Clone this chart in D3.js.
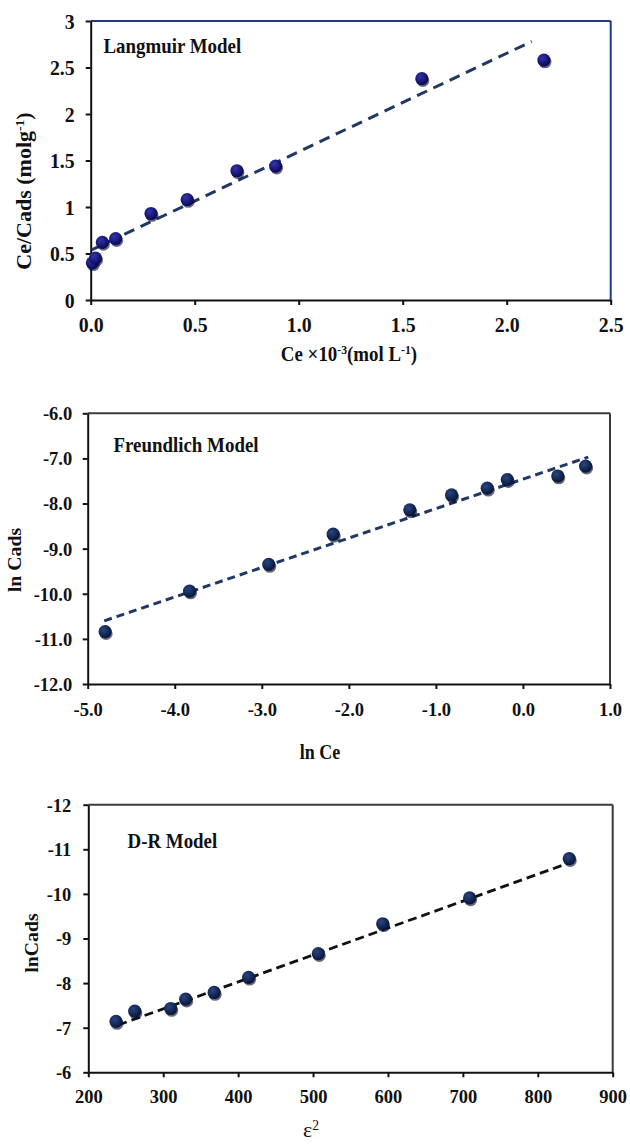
<!DOCTYPE html>
<html>
<head>
<meta charset="utf-8">
<script src="https://cdn.jsdelivr.net/npm/d3@7"></script>
<style>
  html, body { margin: 0; padding: 0; background: #fff; }
  svg { display: block; }
</style>
</head>
<body>
<div id="chart"></div>
<script>
// ---------- DATA ----------
// Langmuir
const langCe   = [0.008, 0.023, 0.056, 0.12, 0.29, 0.464, 0.703, 0.889, 1.592, 2.179];
const langRatio = [0.40, 0.45, 0.62, 0.66, 0.93, 1.08, 1.39, 1.44, 2.38, 2.58];
const langFitX = [0.005, 2.12];
const langFitY = [0.54, 2.78];
const langXTicks = [0, 0.5, 1.0, 1.5, 2.0, 2.5];
const langYTicks = [0, 0.5, 1, 1.5, 2, 2.5, 3];

// Freundlich
const freLnCe   = [-4.80, -3.83, -2.92, -2.18, -1.30, -0.82, -0.41, -0.18, 0.40, 0.72];
const freLnCads = [-10.84, -9.94, -9.35, -8.68, -8.14, -7.81, -7.66, -7.47, -7.39, -7.17];
const freFitX = [-4.81, 0.75];
const freFitY = [-10.60, -6.97];
const freXTicks = [-5, -4, -3, -2, -1, 0, 1];
const freYTicks = [-12, -11, -10, -9, -8, -7, -6];

// D-R
const drEps2   = [237, 262, 310, 330, 368, 414, 507, 593, 709, 842];
const drLnCads = [-7.14, -7.37, -7.43, -7.64, -7.79, -8.13, -8.66, -9.33, -9.91, -10.79];
const drFitX = [240, 841];
const drFitY = [-7.06, -10.69];
const drXTicks = [200, 300, 400, 500, 600, 700, 800, 900];
const drYTicks = [-6, -7, -8, -9, -10, -11, -12];

// ---------- DRAW ----------
const W = 630, H = 1145;
const FONT = "'Liberation Serif', 'Times New Roman', serif";
const svg = d3.select("#chart").append("svg").attr("width", W).attr("height", H);
const defs = svg.append("defs");

function grad(id, light, dark) {
  const g = defs.append("radialGradient").attr("id", id)
    .attr("cx", "38%").attr("cy", "35%").attr("r", "65%");
  g.append("stop").attr("offset", "0%").attr("stop-color", light);
  g.append("stop").attr("offset", "100%").attr("stop-color", dark);
}
grad("gBlue", "#3434a8", "#08085a");
grad("gNavy", "#2a4680", "#06153a");

function styleText(sel, size) {
  sel.attr("font-family", FONT).attr("font-weight", "bold")
     .attr("font-size", size).attr("fill", "#111");
}

function drawChart(c) {
  const x = d3.scaleLinear().domain(c.xDomain).range([c.left, c.right]);
  const y = d3.scaleLinear().domain(c.yDomain).range([c.bottom, c.top]);
  const g = svg.append("g");

  // frame top/right
  g.append("line").attr("x1", c.left).attr("x2", c.right).attr("y1", c.top).attr("y2", c.top)
    .attr("stroke", c.frameColor).attr("stroke-width", 2);
  g.append("line").attr("x1", c.right).attr("x2", c.right).attr("y1", c.top).attr("y2", c.bottom)
    .attr("stroke", c.frameColor).attr("stroke-width", 2);

  // axes
  const xa = g.append("g").attr("transform", `translate(0,${c.bottom})`)
    .call(d3.axisBottom(x).tickValues(c.xTicks).tickSize(5).tickSizeOuter(0).tickFormat(c.xFmt));
  const ya = g.append("g").attr("transform", `translate(${c.left},0)`)
    .call(d3.axisLeft(y).tickValues(c.yTicks).tickSize(5).tickSizeOuter(0).tickFormat(c.yFmt));
  [xa, ya].forEach(a => {
    a.select(".domain").attr("stroke", "#111").attr("stroke-width", 2);
    a.selectAll(".tick line").attr("stroke", "#111").attr("stroke-width", 2);
  });
  xa.selectAll(".tick text").each(function() {
    const t = d3.select(this);
    t.attr("x", 0).attr("y", 0).attr("dy", 0)
     .attr("text-anchor", "middle")
     .attr("transform", `translate(0,${c.xLabelOff}) scale(${c.tickSX},1)`);
    styleText(t, c.tickSize);
  });
  ya.selectAll(".tick text").each(function() {
    const t = d3.select(this);
    t.attr("x", 0).attr("y", 0).attr("dy", "0.33em")
     .attr("text-anchor", "end")
     .attr("transform", `translate(${-c.yLabelOff},0) scale(${c.tickSX},1)`);
    styleText(t, c.tickSize);
  });

  // trend line
  const fit = c.fitX.map((v, i) => [v, c.fitY[i]]);
  g.append("path").datum(fit)
    .attr("d", d3.line().x(d => x(d[0])).y(d => y(d[1])))
    .attr("fill", "none").attr("stroke", c.lineColor)
    .attr("stroke-width", c.lineWidth).attr("stroke-dasharray", c.dash);

  // points
  const pts = c.xs.map((v, i) => [v, c.ys[i]]);
  g.selectAll("ellipse.sh").data(pts).enter().append("ellipse")
    .attr("cx", d => x(d[0]) + 1).attr("cy", d => y(d[1]) + 2)
    .attr("rx", 6.5).attr("ry", 6.3).attr("fill", "#030320").attr("opacity", 0.6);
  g.selectAll("circle.pt").data(pts).enter().append("circle")
    .attr("cx", d => x(d[0])).attr("cy", d => y(d[1]))
    .attr("r", 6.6).attr("fill", c.fill);

  // model title
  const mt = g.append("text").attr("transform", `translate(${c.titleX},${c.titleY}) scale(0.9,1)`)
    .text(c.title);
  styleText(mt, 21);

  // x axis title
  const xt = g.append("text").attr("text-anchor", "middle")
    .attr("transform", `translate(${c.xTitleX},${c.xTitleY}) scale(${c.xTitleSX},1)`);
  c.xTitle.forEach(p => {
    const ts = xt.append("tspan").text(p.t);
    if (p.sup) ts.attr("baseline-shift", "super").attr("data-sup", 1);
  });
  styleText(xt, c.xTitleSize);
  if (c.xTitleWeight) xt.attr("font-weight", c.xTitleWeight);
  xt.selectAll("tspan[data-sup]").attr("font-size", c.xTitleSize * 0.62);

  // y axis title
  const yt = g.append("text").attr("text-anchor", "middle")
    .attr("transform", `translate(${c.yTitleX},${c.yTitleY}) rotate(-90) scale(1.1,1)`);
  c.yTitle.forEach(p => {
    const ts = yt.append("tspan").text(p.t);
    if (p.sup) ts.attr("baseline-shift", "super").attr("data-sup", 1);
  });
  styleText(yt, c.yTitleSize);
  yt.selectAll("tspan[data-sup]").attr("font-size", c.yTitleSize * 0.62);
}

const fmt1 = d => d.toFixed(1);
const fmtS = d => String(d);

drawChart({
  left: 90.7, right: 610.7, top: 21, bottom: 300,
  xDomain: [0, 2.5], yDomain: [0, 3],
  xTicks: langXTicks, yTicks: langYTicks, xFmt: fmt1, yFmt: fmtS,
  tickSize: 22, tickSX: 0.9, xLabelOff: 32, yLabelOff: 16,
  frameColor: "#23388a",
  xs: langCe, ys: langRatio, fill: "url(#gBlue)",
  fitX: langFitX, fitY: langFitY, lineColor: "#1f3864", lineWidth: 3, dash: "11,7",
  title: "Langmuir Model", titleX: 103.5, titleY: 53,
  xTitle: [{t: "Ce ×10"}, {t: "-3", sup: true}, {t: "(mol L"}, {t: "-1", sup: true}, {t: ")"}],
  xTitleX: 349, xTitleY: 361, xTitleSize: 21, xTitleSX: 0.9,
  yTitle: [{t: "Ce/Cads  (molg"}, {t: "-1", sup: true}, {t: ")"}],
  yTitleX: 31, yTitleY: 191, yTitleSize: 20
});

drawChart({
  left: 87.7, right: 610, top: 413.3, bottom: 684,
  xDomain: [-5, 1], yDomain: [-12, -6],
  xTicks: freXTicks, yTicks: freYTicks, xFmt: fmt1, yFmt: fmt1,
  tickSize: 19.5, tickSX: 0.95, xLabelOff: 31.5, yLabelOff: 15.5,
  frameColor: "#3a3a3a",
  xs: freLnCe, ys: freLnCads, fill: "url(#gNavy)",
  fitX: freFitX, fitY: freFitY, lineColor: "#1f3864", lineWidth: 3, dash: "8,5",
  title: "Freundlich Model", titleX: 113.5, titleY: 451.5,
  xTitle: [{t: "ln Ce"}],
  xTitleX: 320, xTitleY: 759, xTitleSize: 20, xTitleSX: 0.9,
  yTitle: [{t: "ln Cads"}],
  yTitleX: 21, yTitleY: 560, yTitleSize: 18
});

drawChart({
  left: 88.3, right: 612.7, top: 804.7, bottom: 1072.3,
  xDomain: [200, 900], yDomain: [-6, -12],
  xTicks: drXTicks, yTicks: drYTicks, xFmt: fmtS, yFmt: fmtS,
  tickSize: 19.5, tickSX: 0.95, xLabelOff: 31, yLabelOff: 17,
  frameColor: "#3a3a3a",
  xs: drEps2, ys: drLnCads, fill: "url(#gNavy)",
  fitX: drFitX, fitY: drFitY, lineColor: "#111", lineWidth: 2.8, dash: "9,5",
  title: "D-R Model", titleX: 127.5, titleY: 847.5,
  xTitle: [{t: "ε"}, {t: "2", sup: true}],
  xTitleX: 311, xTitleY: 1137, xTitleSize: 22, xTitleSX: 1, xTitleWeight: "normal",
  yTitle: [{t: "lnCads"}],
  yTitleX: 38, yTitleY: 943, yTitleSize: 18
});
</script>
</body>
</html>
